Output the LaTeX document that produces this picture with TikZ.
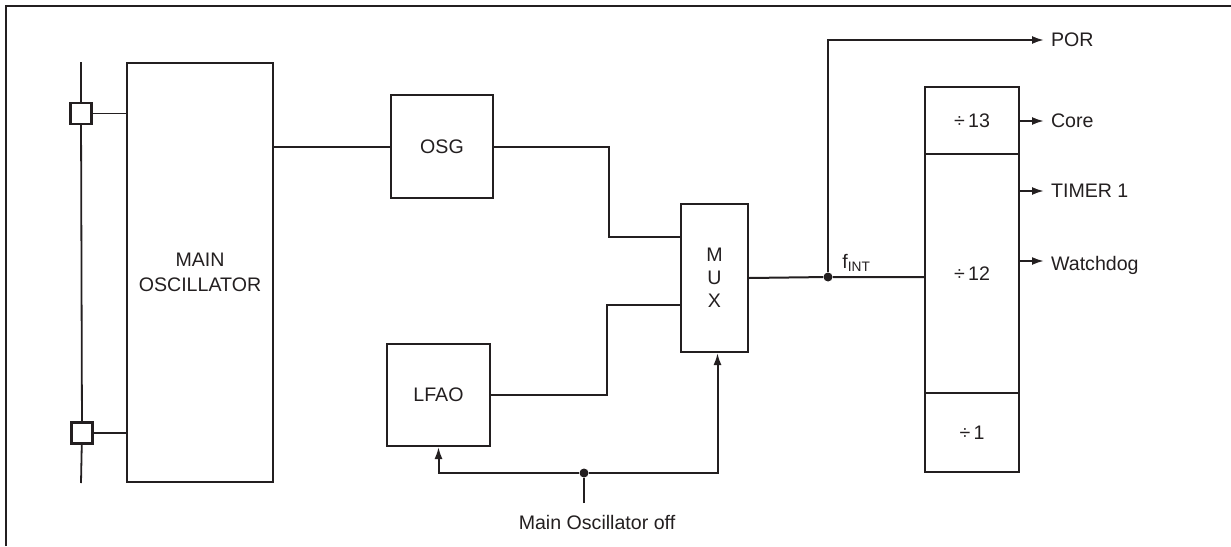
\documentclass[tikz,border=0pt]{standalone}
\usepackage{fontspec}
\setmainfont{Liberation Sans}
\usetikzlibrary{arrows.meta}
\definecolor{ink}{RGB}{35,31,32}

\begin{document}
\begin{tikzpicture}[x=0.5pt, y=-0.5pt, >={Latex[length=6pt,width=4pt]},
    every node/.style={font=\fontsize{9.8}{12.5}\selectfont, text=ink},
    block/.style={draw=ink, line width=1pt, inner sep=0pt},
    pinbox/.style={draw=ink, line width=1.2pt, fill=white, minimum size=10.5pt, inner sep=0pt},
    wire/.style={draw=ink, line width=1pt},
    junction/.style={circle, fill=ink, minimum size=4.5pt, inner sep=0pt}]
    \useasboundingbox (0,0) rectangle (1231,546);
    \draw[ink, line width=1.3pt] (6,546) -- (6,6) -- (1231,6);

    % oscillator side
    \node[block, minimum width=73pt, minimum height=209.5pt, align=center] (mainosc) at (200,272.5) {MAIN\\OSCILLATOR};
    \coordinate (railtop) at (81,62);
    \coordinate (railbot) at (81,483);
    \node[pinbox] (pin1) at (81,113.5) {};
    \node[pinbox] (pin2) at (82,433) {};
    \draw[ink, line width=0.9pt] (railtop) -- (pin1) -- (pin2) -- (railbot);
    \draw[ink, line width=0.7pt] (pin1.east) -- (pin1.east -| mainosc.west);
    \draw[ink, line width=0.7pt] (pin2.east) -- (pin2.east -| mainosc.west);

    \node[block, minimum width=51pt, minimum height=51.5pt] (osg) at (442,146.5) {OSG};
    \node[block, minimum width=51.5pt, minimum height=51pt] (lfao) at (438.5,395) {LFAO};
    \node[block, minimum width=33.5pt, minimum height=74pt, align=center] (mux) at (714.5,278) {M\\[-1pt]U\\[-1pt]X};

    % divider chain
    \node[block, minimum width=47pt, minimum height=33.5pt] (div13) at (972,120.5) {÷\,13};
    \node[block, minimum width=47pt, minimum height=119.5pt] (div12) at (972,273.5) {÷\,12};
    \node[block, minimum width=47pt, minimum height=39.5pt] (div1) at (972,432.5) {÷\,1};

    % outputs
    \node[anchor=west] (por) at (1044,40) {POR};
    \node[anchor=west] (core) at (1044,121) {Core};
    \node[anchor=west] (timer) at (1044,191) {TIMER 1};
    \node[anchor=west] (wdog) at (1044,265) {Watchdog};
    \node (moff) at (597,522) {Main Oscillator off};
    \node[anchor=base west, inner sep=0pt] (fintlbl) at (842,268) {f\textsubscript{INT}};

    \node[junction] (fint) at (828,277) {};
    \node[junction] (split) at (584,473) {};
    \coordinate (offend) at (584,503);
    \coordinate (bend1) at (609,190);
    \coordinate (bend2) at (607,350);
    \coordinate (muxin1) at ([yshift=20.5pt]mux.west);
    \coordinate (muxin2) at ([yshift=-13.5pt]mux.west);
    \coordinate (wdogin) at ([yshift=2pt]wdog.west);

    \draw[wire] (mainosc.east |- osg.west) -- (osg.west);
    \draw[wire] (osg.east) -| (bend1) |- (muxin1);
    \draw[wire] (lfao.east) -| (bend2) |- (muxin2);
    \draw[wire] (mux.east) -- (fint) -- (fint -| div12.west);
    \draw[wire, ->] (fint) |- (por.west);
    \draw[wire, ->] (core.west -| div13.east) -- (core.west);
    \draw[wire, ->] (timer.west -| div12.east) -- (timer.west);
    \draw[wire, ->] (wdogin -| div12.east) -- (wdogin);

    \draw[wire] (offend) -- (split);
    \draw[wire, ->] (split) -| (lfao.south);
    \draw[wire, ->] (split) -| ([xshift=1.5pt]mux.south);
\end{tikzpicture}
\end{document}
